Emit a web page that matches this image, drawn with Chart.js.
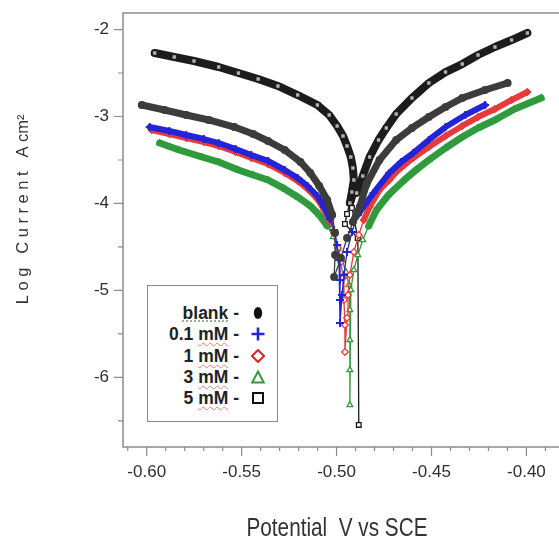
<!DOCTYPE html>
<html>
<head>
<meta charset="utf-8">
<script src="https://cdn.jsdelivr.net/npm/chart.js@4.4.0/dist/chart.umd.min.js"></script>
<style>
html,body{margin:0;padding:0;background:#fff;overflow:hidden;}
#wrap{position:relative;width:559px;height:540px;}
#c{position:absolute;left:0;top:0;}
#legend{position:absolute;left:147px;top:285px;width:131px;height:137px;border:1.5px solid #8a8a8a;box-sizing:border-box;background:#fff;
  font-family:"Liberation Sans",Arial,sans-serif;font-weight:bold;font-size:17.5px;color:#222;}
.row{position:absolute;left:0;width:100%;height:22px;}
.lbl{position:absolute;right:38px;top:0;line-height:22px;white-space:nowrap;}
.mk{position:absolute;left:103px;top:4px;width:14px;height:14px;}
.sp{text-decoration:underline wavy #e08080;text-decoration-thickness:1px;text-underline-offset:2px;}
.gr{text-decoration:underline dotted #8aa88a;text-underline-offset:2px;}
#xtitle{position:absolute;left:337px;top:527px;transform:translate(-50%,-50%) scaleX(0.83);white-space:nowrap;
  font-family:"Liberation Sans",Arial,sans-serif;font-size:25px;color:#333;}
</style>
</head>
<body>
<div id="wrap">
<canvas id="c" width="559" height="540"></canvas>
<div id="legend"></div>
<div id="xtitle">Potential&nbsp; V vs SCE</div>
</div>
<script>
// ---- data ----
const seriesNames = ['blank', '0.1 mM', '1 mM', '3 mM', '5 mM'];
const xTickLabels = ['-0.60', '-0.55', '-0.50', '-0.45', '-0.40'];
const yTickLabels = ['-2', '-3', '-4', '-5', '-6'];

const blankX = [-0.6026,-0.5906,-0.5792,-0.5673,-0.5538,-0.5439,-0.5361,-0.5273,-0.5190,-0.5138,-0.5091,-0.5049,-0.5023,-0.5008,-0.5008,-0.5013,
  -0.4977,-0.4945,-0.4914,-0.4878,-0.4842,-0.4774,-0.4686,-0.4603,-0.4514,-0.4426,-0.4338,-0.4218,-0.4099];
const blankY = [-2.868,-2.925,-2.983,-3.040,-3.121,-3.201,-3.282,-3.385,-3.523,-3.649,-3.799,-3.960,-4.132,-4.339,-4.592,-4.845,
  -4.626,-4.397,-4.213,-4.040,-3.776,-3.500,-3.270,-3.132,-3.006,-2.891,-2.787,-2.695,-2.615];

const mM01X = [-0.5984,-0.5881,-0.5792,-0.5699,-0.5621,-0.5532,-0.5449,-0.5361,-0.5273,-0.5205,-0.5153,-0.5101,-0.5065,-0.5034,-0.5013,-0.4997,-0.4987,-0.4982,-0.4982,-0.4982,
  -0.4971,-0.4961,-0.4945,-0.4919,-0.4888,-0.4852,-0.4805,-0.4722,-0.4660,-0.4597,-0.4514,-0.4426,-0.4322,-0.4218];
const mM01Y = [-3.121,-3.167,-3.213,-3.259,-3.305,-3.374,-3.443,-3.511,-3.615,-3.707,-3.799,-3.914,-4.040,-4.178,-4.305,-4.477,-4.649,-4.879,-5.109,-5.374,
  -5.052,-4.822,-4.557,-4.328,-4.132,-4.017,-3.879,-3.649,-3.523,-3.420,-3.270,-3.121,-2.983,-2.868];

const mM1X = [-0.5974,-0.5881,-0.5792,-0.5699,-0.5621,-0.5532,-0.5449,-0.5361,-0.5273,-0.5205,-0.5153,-0.5101,-0.5065,-0.5034,-0.5013,-0.4992,-0.4977,-0.4966,-0.4961,-0.4956,-0.4956,
  -0.4945,-0.4940,-0.4930,-0.4909,-0.4883,-0.4857,-0.4826,-0.4774,-0.4722,-0.4686,-0.4597,-0.4514,-0.4426,-0.4338,-0.4255,-0.4166,-0.4078,-0.3995];
const mM1Y = [-3.155,-3.201,-3.247,-3.293,-3.339,-3.408,-3.477,-3.546,-3.649,-3.741,-3.833,-3.948,-4.075,-4.213,-4.339,-4.511,-4.672,-4.856,-5.109,-5.397,-5.707,
  -5.316,-5.052,-4.822,-4.557,-4.362,-4.190,-4.040,-3.845,-3.730,-3.638,-3.477,-3.351,-3.224,-3.109,-3.006,-2.914,-2.810,-2.718];

const mM3X = [-0.5932,-0.5829,-0.5709,-0.5621,-0.5517,-0.5439,-0.5361,-0.5273,-0.5205,-0.5138,-0.5091,-0.5049,-0.5018,-0.4992,-0.4971,-0.4951,-0.4935,-0.4930,-0.4930,-0.4930,-0.4930,
  -0.4925,-0.4909,-0.4888,-0.4862,-0.4831,-0.4790,-0.4727,-0.4649,-0.4582,-0.4514,-0.4426,-0.4338,-0.4255,-0.4166,-0.4062,-0.3922];
const mM3Y = [-3.305,-3.385,-3.466,-3.523,-3.615,-3.672,-3.730,-3.833,-3.925,-4.029,-4.132,-4.259,-4.385,-4.523,-4.649,-4.787,-4.937,-5.224,-5.569,-5.914,-6.316,
  -4.994,-4.764,-4.592,-4.420,-4.259,-4.075,-3.902,-3.741,-3.615,-3.500,-3.362,-3.236,-3.132,-3.040,-2.914,-2.787];

const mM5X = [-0.5958,-0.5855,-0.5751,-0.5621,-0.5517,-0.5413,-0.5309,-0.5205,-0.5101,-0.5039,-0.4997,-0.4966,-0.4945,-0.4925,-0.4914,-0.4909,-0.4919,-0.4930,-0.4945,-0.4956,
  -0.4888,-0.4883,-0.4888,
  -0.4919,-0.4894,-0.4862,-0.4826,-0.4779,-0.4738,-0.4686,-0.4603,-0.4514,-0.4426,-0.4338,-0.4255,-0.4166,-0.4078,-0.3995];
const mM5Y = [-2.270,-2.316,-2.362,-2.431,-2.500,-2.569,-2.649,-2.753,-2.868,-2.983,-3.109,-3.224,-3.339,-3.466,-3.592,-3.730,-3.868,-3.994,-4.121,-4.236,
  -4.397,-6.546,-4.397,
  -4.052,-3.879,-3.684,-3.466,-3.270,-3.132,-2.971,-2.787,-2.615,-2.489,-2.397,-2.293,-2.201,-2.121,-2.040];

// ---- styles ----
const seriesX = [blankX, mM01X, mM1X, mM3X, mM5X];
const seriesY = [blankY, mM01Y, mM1Y, mM3Y, mM5Y];
const lineColors = ['#3c3c3c', '#2323d8', '#e63b3b', '#2f9b3c', '#1c1c1c'];
const pointStyles = ['circle', 'cross', 'rectRot', 'triangle', 'rect'];
const bandWidths = [7, 6, 6, 7, 8];
const thinBelow = [-4.3, -4.3, -4.3, -4.35, -4.0];
const bandFill = ['#3c3c3c', '#2323d8', '#e63b3b', '#2f9b3c', '#b0b0b0'];

const datasets = seriesNames.map((name, i) => ({
  label: name,
  data: seriesX[i].map((x, k) => ({x: x, y: seriesY[i][k]})),
  showLine: true,
  borderColor: lineColors[i],
  borderWidth: bandWidths[i],
  borderJoinStyle: 'round',
  borderCapStyle: 'round',
  tension: 0,
  pointStyle: pointStyles[i],
  pointRadius: i === 1 ? 4 : 3.3,
  pointBorderWidth: i === 1 ? 2 : 1.3,
  pointBorderColor: lineColors[i],
  pointBackgroundColor: ctx => {
    const r = ctx.raw;
    if (i === 0) return lineColors[0];
    if (r && r.y < thinBelow[i]) return '#ffffff';
    return bandFill[i];
  },
  segment: {
    borderWidth: ctx => {
      const ys = ctx.chart.scales.y;
      const lim = ys.getPixelForValue(thinBelow[ctx.datasetIndex]);
      return Math.max(ctx.p0.y, ctx.p1.y) > lim ? 1.3 : bandWidths[ctx.datasetIndex];
    }
  }
}));

function findLabel(list, v) {
  const hit = list.find(l => Math.abs(Number(l) - v) < 1e-6);
  return hit === undefined ? '' : hit;
}

const framePlugin = {
  id: 'frame',
  afterDraw(chart) {
    const {ctx, chartArea: a, scales: {x, y}} = chart;
    ctx.save();
    ctx.strokeStyle = '#8c8c8c';
    ctx.lineWidth = 1.5;
    ctx.beginPath();
    ctx.moveTo(a.right + 10, a.top); ctx.lineTo(a.left, a.top); ctx.lineTo(a.left, a.bottom); ctx.lineTo(a.right + 10, a.bottom);
    ctx.stroke();
    ctx.lineWidth = 1.2;
    ctx.beginPath();
    x.ticks.forEach(t => {
      const p = x.getPixelForValue(t.value);
      if (p < a.left || p > a.right) return;
      const len = t.label ? 9 : 4;
      ctx.moveTo(p, a.bottom); ctx.lineTo(p, a.bottom + len);
    });
    y.ticks.forEach(t => {
      const p = y.getPixelForValue(t.value);
      if (p < a.top || p > a.bottom) return;
      const len = t.label ? 9 : 5;
      ctx.moveTo(a.left, p); ctx.lineTo(a.left - len, p);
    });
    ctx.stroke();
    ctx.restore();
  }
};

new Chart(document.getElementById('c'), {
  type: 'scatter',
  data: {datasets: datasets},
  plugins: [framePlugin],
  options: {
    responsive: false,
    animation: false,
    devicePixelRatio: 1,
    layout: {padding: {top: 13, right: -2, left: 0, bottom: 0}},
    plugins: {legend: {display: false}, tooltip: {enabled: false}},
    scales: {
      x: {
        type: 'linear',
        min: -0.6125, max: -0.386,
        grid: {display: false, drawTicks: false},
        border: {display: false},
        ticks: {
          stepSize: 0.01, maxTicksLimit: 1000, includeBounds: false, autoSkip: false,
          maxRotation: 0, minRotation: 0, padding: 15,
          color: '#2e2e2e', font: {family: '"Liberation Sans", Arial, sans-serif', size: 17},
          callback: v => findLabel(xTickLabels, v)
        },
        title: {display: false},
        afterFit: s => { s.height = 93; s.paddingLeft = 0; s.paddingRight = 0; }
      },
      y: {
        type: 'linear',
        min: -6.8, max: -1.81,
        grid: {display: false, drawTicks: false},
        border: {display: false},
        ticks: {
          stepSize: 0.5, maxTicksLimit: 1000, includeBounds: false, padding: 14,
          color: '#2e2e2e', font: {family: '"Liberation Sans", Arial, sans-serif', size: 17},
          callback: v => findLabel(yTickLabels, v)
        },
        title: {
          display: true,
          text: '\u00a0\u00a0\u00a0\u00a0\u00a0\u00a0\u00a0\u00a0\u00a0L o g   C u r r e n t   A cm\u00b2',
          color: '#333',
          font: {family: '"Liberation Sans", Arial, sans-serif', size: 16.5},
          padding: {top: 14, bottom: 0}
        },
        afterFit: s => { s.width = 123; s.paddingTop = 0; s.paddingBottom = 0; }
      }
    }
  }
});

// ---- legend (HTML text) ----
const legendMarkers = [
  '<svg class="mk" viewBox="0 0 14 14"><ellipse cx="7" cy="7" rx="4.2" ry="6" fill="#111"/></svg>',
  '<svg class="mk" viewBox="0 0 14 14"><path d="M7 0.5V13.5M0.5 7H13.5" stroke="#2323d8" stroke-width="2.6"/></svg>',
  '<svg class="mk" viewBox="0 0 14 14"><path d="M7 1L13 7L7 13L1 7Z" stroke="#d42828" stroke-width="2" fill="#fff"/></svg>',
  '<svg class="mk" viewBox="0 0 14 14"><path d="M7 1.5L12.8 12.5H1.2Z" stroke="#2f9b3c" stroke-width="2" fill="#fff"/></svg>',
  '<svg class="mk" viewBox="0 0 14 14"><rect x="2" y="2" width="10" height="10" stroke="#111" stroke-width="2" fill="#fff"/></svg>'
];
const rowCenters = [27, 48, 70, 91, 112];
const legend = document.getElementById('legend');
seriesNames.forEach((name, i) => {
  const row = document.createElement('div');
  row.className = 'row';
  row.style.top = (rowCenters[i] - 11) + 'px';
  let html;
  if (name === 'blank') html = '<span class="gr">blank</span> -';
  else html = name.replace('mM', '<span class="sp">mM</span>') + ' -';
  row.innerHTML = '<span class="lbl">' + html + '</span>' + legendMarkers[i];
  legend.appendChild(row);
});
</script>
</body>
</html>
